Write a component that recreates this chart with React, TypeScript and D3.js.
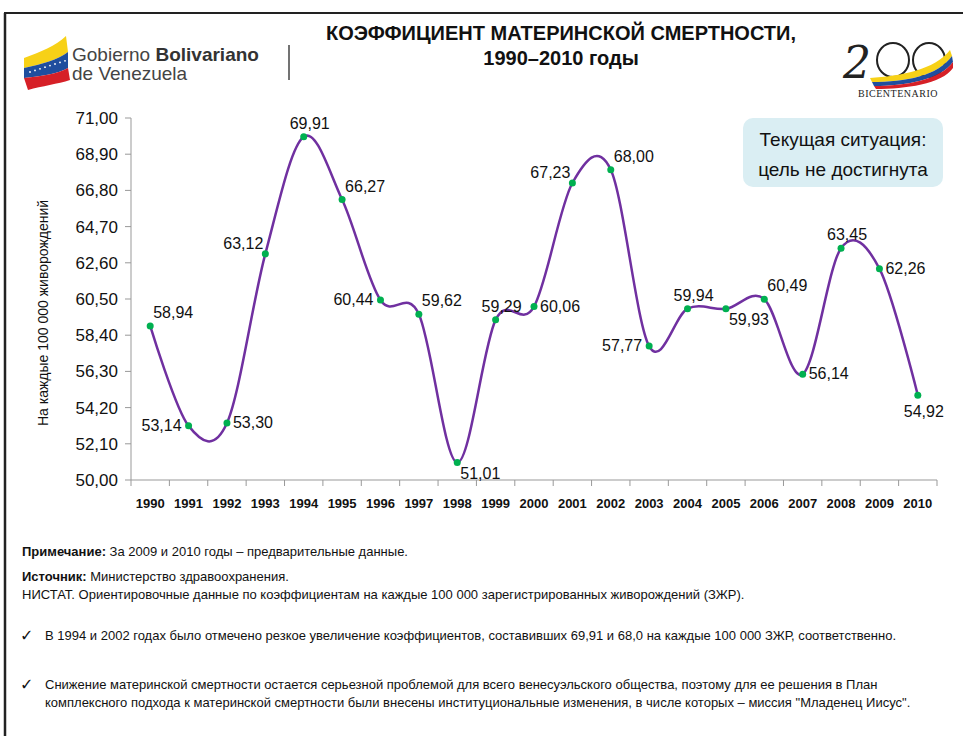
import { useMemo } from "react";
import * as d3 from "d3";

const YEARS = [
  "1990", "1991", "1992", "1993", "1994", "1995", "1996", "1997", "1998", "1999",
  "2000", "2001", "2002", "2003", "2004", "2005", "2006", "2007", "2008", "2009", "2010",
];
const RATES = [
  58.94, 53.14, 53.3, 63.12, 69.91, 66.27, 60.44, 59.62, 51.01, 59.29,
  60.06, 67.23, 68.0, 57.77, 59.94, 59.93, 60.49, 56.14, 63.45, 62.26, 54.92,
];
// where each value label sits relative to its point
const LABEL_SIDE = [
  "ur", "l", "r", "ul", "u", "ur", "l", "ur", "dr", "u",
  "r", "ul", "ur", "l", "u", "dr", "ur", "r", "u", "r", "d",
];
const Y_TICKS = [50, 52.1, 54.2, 56.3, 58.4, 60.5, 62.6, 64.7, 66.8, 68.9, 71];

const FONT = "'Liberation Sans Narrow', 'Arial Narrow', 'Liberation Sans', Arial, sans-serif";
const fmt = (v: number) => v.toFixed(2).replace(".", ",");

const Chart = () => {
  const x = useMemo(
    () => d3.scaleBand<string>().domain(YEARS).range([131, 937]),
    []
  );
  const y = useMemo(() => d3.scaleLinear().domain([50, 71]).range([480, 118]), []);

  const line = d3
    .line<number>()
    .x((_, i) => x(YEARS[i])! + x.bandwidth() / 2)
    .y((d) => y(d))
    .curve(d3.curveCardinal.tension(0));

  const labelPos = (side: string, px: number, py: number) => {
    switch (side) {
      case "l":
        return { x: px - 7, y: py + 5, anchor: "end" };
      case "r":
        return { x: px + 6, y: py + 5, anchor: "start" };
      case "u":
        return { x: px + 6, y: py - 8, anchor: "middle" };
      case "d":
        return { x: px + 6, y: py + 22, anchor: "middle" };
      case "ul":
        return { x: px - 2, y: py - 5, anchor: "end" };
      case "ur":
        return { x: px + 3, y: py - 8, anchor: "start" };
      case "dr":
        return { x: px + 3, y: py + 16, anchor: "start" };
      default:
        return { x: px, y: py, anchor: "middle" };
    }
  };

  return (
    <svg
      width={963}
      height={736}
      style={{ position: "absolute", left: 0, top: 0, background: "#fff" }}
      fontFamily={FONT}
    >
      {/* frame */}
      <line x1={4} y1={13} x2={963} y2={13} stroke="#222" strokeWidth={2} />
      <line x1={5} y1={13} x2={5} y2={736} stroke="#222" strokeWidth={2.5} />

      {/* left logo */}
      <g>
        <path d="M24,58 C40,52 56,46 66,36 L68,52 C58,60 42,64 24,68 Z" fill="#F7D117" />
        <path d="M24,68 C42,64 58,60 68,52 L68,68 C58,74 42,76 24,78 Z" fill="#1F4E9E" />
        <path d="M24,78 C42,76 58,74 68,68 L70,80 C58,84 42,86 28,90 Z" fill="#D62027" />
        {[0, 1, 2, 3, 4, 5, 6, 7].map((i) => (
          <circle key={i} cx={30 + i * 5} cy={72 - i * 1.6} r={0.9} fill="#fff" />
        ))}
        <text x={72} y={61} fontFamily="'Liberation Sans', Arial, sans-serif" fontSize={19} fill="#444">
          Gobierno <tspan fontWeight="bold" fill="#333">Bolivariano</tspan>
        </text>
        <text x={72} y={80} fontFamily="'Liberation Sans', Arial, sans-serif" fontSize={19} fill="#444">
          de Venezuela
        </text>
        <line x1={289} y1={45} x2={289} y2={80} stroke="#444" strokeWidth={1.5} />
      </g>

      {/* right logo */}
      <g>
        <text x={843} y={78} fontFamily="'DejaVu Serif', serif" fontSize={44} fontStyle="italic" fill="#222">
          2
        </text>
        <ellipse cx={893} cy={60} rx={16} ry={17} fill="none" stroke="#222" strokeWidth={2} />
        <ellipse cx={929} cy={60} rx={16} ry={17} fill="none" stroke="#222" strokeWidth={2} />
        <path d="M870,78 C900,76 935,70 950,50 L952,56 C938,76 905,82 872,82 Z" fill="#F7D117" />
        <path d="M872,82 C905,82 938,76 952,56 L953,62 C940,80 905,86 874,86 Z" fill="#1F4E9E" />
        <path d="M874,86 C905,86 940,80 953,62 L953,68 C942,84 905,89 876,89 Z" fill="#D62027" />
        <text x={898} y={97} textAnchor="middle" fontFamily="'Liberation Serif', serif" fontSize={10} fill="#222" letterSpacing={0.5}>
          BICENTENARIO
        </text>
      </g>

      {/* title */}
      <text x={561} y={40} textAnchor="middle" fontSize={20} fontWeight="bold" fill="#111">
        КОЭФФИЦИЕНТ МАТЕРИНСКОЙ СМЕРТНОСТИ,
      </text>
      <text x={561} y={65} textAnchor="middle" fontSize={20} fontWeight="bold" fill="#111">
        1990–2010 годы
      </text>

      {/* y axis */}
      <line x1={131} y1={118} x2={131} y2={480} stroke="#999" />
      {Y_TICKS.map((t) => (
        <g key={t}>
          <line x1={125} y1={y(t)} x2={131} y2={y(t)} stroke="#999" />
          <text x={118} y={y(t) + 6} textAnchor="end" fontSize={17} fill="#111">
            {fmt(t)}
          </text>
        </g>
      ))}
      <text
        transform="translate(48,313) rotate(-90)"
        textAnchor="middle"
        fontSize={14}
        fill="#111"
      >
        На каждые 100 000 живорождений
      </text>

      {/* x axis */}
      <line x1={131} y1={480} x2={937} y2={480} stroke="#999" />
      {YEARS.map((yr) => (
        <line key={"t" + yr} x1={x(yr)!} y1={480} x2={x(yr)!} y2={486} stroke="#999" />
      ))}
      <line x1={937} y1={480} x2={937} y2={486} stroke="#999" />
      {YEARS.map((yr) => (
        <text
          key={yr}
          x={x(yr)! + x.bandwidth() / 2}
          y={508}
          textAnchor="middle"
          fontSize={13}
          fontWeight="bold"
          fill="#111"
        >
          {yr}
        </text>
      ))}

      {/* series */}
      <path d={line(RATES) ?? ""} fill="none" stroke="#7030A0" strokeWidth={2.5} />
      {RATES.map((v, i) => {
        const px = x(YEARS[i])! + x.bandwidth() / 2;
        const py = y(v);
        const p = labelPos(LABEL_SIDE[i], px, py);
        return (
          <g key={i}>
            <circle cx={px} cy={py} r={3.5} fill="#00B050" />
            <text x={p.x} y={p.y} textAnchor={p.anchor} fontSize={16} fill="#111">
              {fmt(v)}
            </text>
          </g>
        );
      })}

      {/* status box */}
      <rect x={743} y={118} width={200} height={69} rx={10} fill="#DAEEF3" />
      <text x={843} y={146} textAnchor="middle" fontSize={19} fill="#111">
        Текущая ситуация:
      </text>
      <text x={843} y={176} textAnchor="middle" fontSize={19} fill="#111">
        цель не достигнута
      </text>

      {/* notes */}
      <g fontSize={13} fill="#111">
        <text x={22} y={556}>
          <tspan fontWeight="bold">Примечание:</tspan> За 2009 и 2010 годы – предварительные данные.
        </text>
        <text x={22} y={581}>
          <tspan fontWeight="bold">Источник:</tspan> Министерство здравоохранения.
        </text>
        <text x={22} y={599}>
          НИСТАТ. Ориентировочные данные по коэффициентам на каждые 100 000 зарегистрированных живорождений (ЗЖР).
        </text>
        <text x={20} y={641} fontFamily="'DejaVu Sans', sans-serif" fontSize={16}>✓</text>
        <text x={45} y={640}>
          В 1994 и 2002 годах было отмечено резкое увеличение коэффициентов, составивших 69,91 и 68,0 на каждые 100 000 ЗЖР, соответственно.
        </text>
        <text x={20} y={690} fontFamily="'DejaVu Sans', sans-serif" fontSize={16}>✓</text>
        <text x={45} y={689}>
          Снижение материнской смертности остается серьезной проблемой для всего венесуэльского общества, поэтому для ее решения в План
        </text>
        <text x={45} y={707}>
          комплексного подхода к материнской смертности были внесены институциональные изменения, в числе которых –  миссия "Младенец Иисус".
        </text>
      </g>
    </svg>
  );
};

export default function App() {
  return <Chart />;
}
